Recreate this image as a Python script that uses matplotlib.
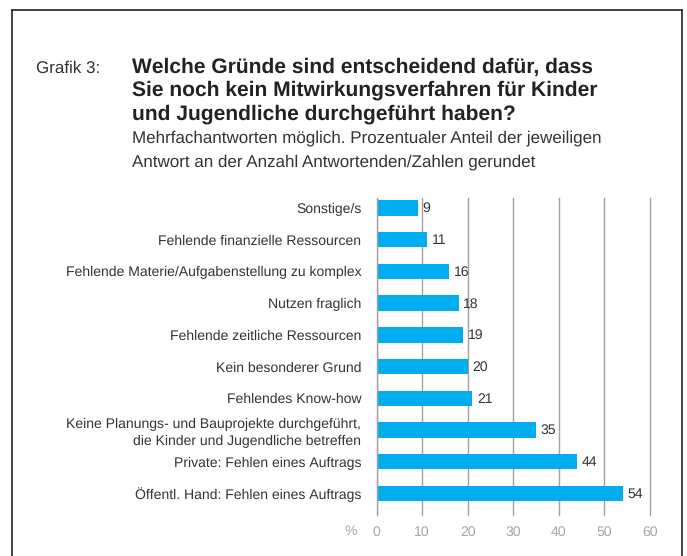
import matplotlib.pyplot as plt
from matplotlib.lines import Line2D

# Daten aus der Grafik (Prozent, gerundet)
categories = [
    "Sonstige/s",
    "Fehlende finanzielle Ressourcen",
    "Fehlende Materie/Aufgabenstellung zu komplex",
    "Nutzen fraglich",
    "Fehlende zeitliche Ressourcen",
    "Kein besonderer Grund",
    "Fehlendes Know-how",
    "Keine Planungs- und Bauprojekte durchgeführt,\ndie Kinder und Jugendliche betreffen",
    "Private: Fehlen eines Auftrags",
    "Öffentl. Hand: Fehlen eines Auftrags",
]
values = [9, 11, 16, 18, 19, 20, 21, 35, 44, 54]
ticks = [0, 10, 20, 30, 40, 50, 60]

W, H = 687, 556
BAR_COLOR = "#00aeef"
TEXT_COLOR = "#333333"
GRID_COLOR = "#a0a0a0"
TICK_COLOR = "#a5a5a5"

plt.rcParams["font.family"] = ["Liberation Sans", "DejaVu Sans"]
plt.rcParams["text.hinting"] = "no_hinting"
plt.rcParams["text.hinting_factor"] = 1


# Pixel -> Figurkoordinaten
def fx(x):
    return x / W


def fy(y):
    return 1 - y / H


fig = plt.figure(figsize=(W / 100, H / 100), dpi=100)

# Rahmen (oben, links, rechts)
fig.add_artist(Line2D([fx(12), fx(682)], [fy(10), fy(10)], color="#222222", lw=1.2))
fig.add_artist(Line2D([fx(12), fx(12)], [fy(10), fy(H)], color="#222222", lw=1.2))
fig.add_artist(Line2D([fx(682), fx(682)], [fy(10), fy(H)], color="#222222", lw=1.2))

# Titelblock
fig.text(fx(36), fy(68), "Grafik 3:", fontsize=12.2, color=TEXT_COLOR, va="center")
title_lines = [
    "Welche Gründe sind entscheidend dafür, dass",
    "Sie noch kein Mitwirkungsverfahren für Kinder",
    "und Jugendliche durchgeführt haben?",
]
for i, line in enumerate(title_lines):
    fig.text(fx(132), fy(67 + 23.5 * i), line, fontsize=15.4, fontweight="bold",
             color="#222222", va="center")
sub_lines = [
    "Mehrfachantworten möglich. Prozentualer Anteil der jeweiligen",
    "Antwort an der Anzahl Antwortenden/Zahlen gerundet",
]
for i, line in enumerate(sub_lines):
    fig.text(fx(132), fy(138 + 24 * i), line, fontsize=12.2, color=TEXT_COLOR, va="center")

# Diagrammbereich
ax_left, ax_right = 376.5, 650
ax_top, ax_bottom = 198, 515
ax = fig.add_axes([fx(ax_left), fy(ax_bottom), (ax_right - ax_left) / W, (ax_bottom - ax_top) / H])

pos = list(range(len(categories)))
ax.barh(pos, values, height=0.49, color=BAR_COLOR, zorder=2)
for p, v in zip(pos, values):
    ax.annotate(str(v), (v, p), xytext=(3.5, -0.5), textcoords="offset points",
                va="center", ha="left", fontsize=10.4, color=TEXT_COLOR)

ax.set_xlim(0, 60)
ax.set_ylim(9.68, -0.315)
ax.set_xticks(ticks)
ax.set_yticks(pos)
ax.set_yticklabels(categories, fontsize=10.4, color=TEXT_COLOR, linespacing=1.3)
ax.tick_params(axis="y", length=0, pad=11)
ax.tick_params(axis="x", length=0, pad=8, labelsize=10.4, labelcolor=TICK_COLOR)
ax.grid(axis="x", color=GRID_COLOR, lw=1, zorder=1)
for gl in ax.get_xgridlines():
    gl.set_clip_on(False)
for s in ax.spines.values():
    s.set_visible(False)
ax.axvline(0, color=GRID_COLOR, lw=1, zorder=3)

fig.text(fx(351), fy(531), "%", fontsize=10.4, color=TICK_COLOR, va="center", ha="center")

fig.savefig("out.png", dpi=100)
